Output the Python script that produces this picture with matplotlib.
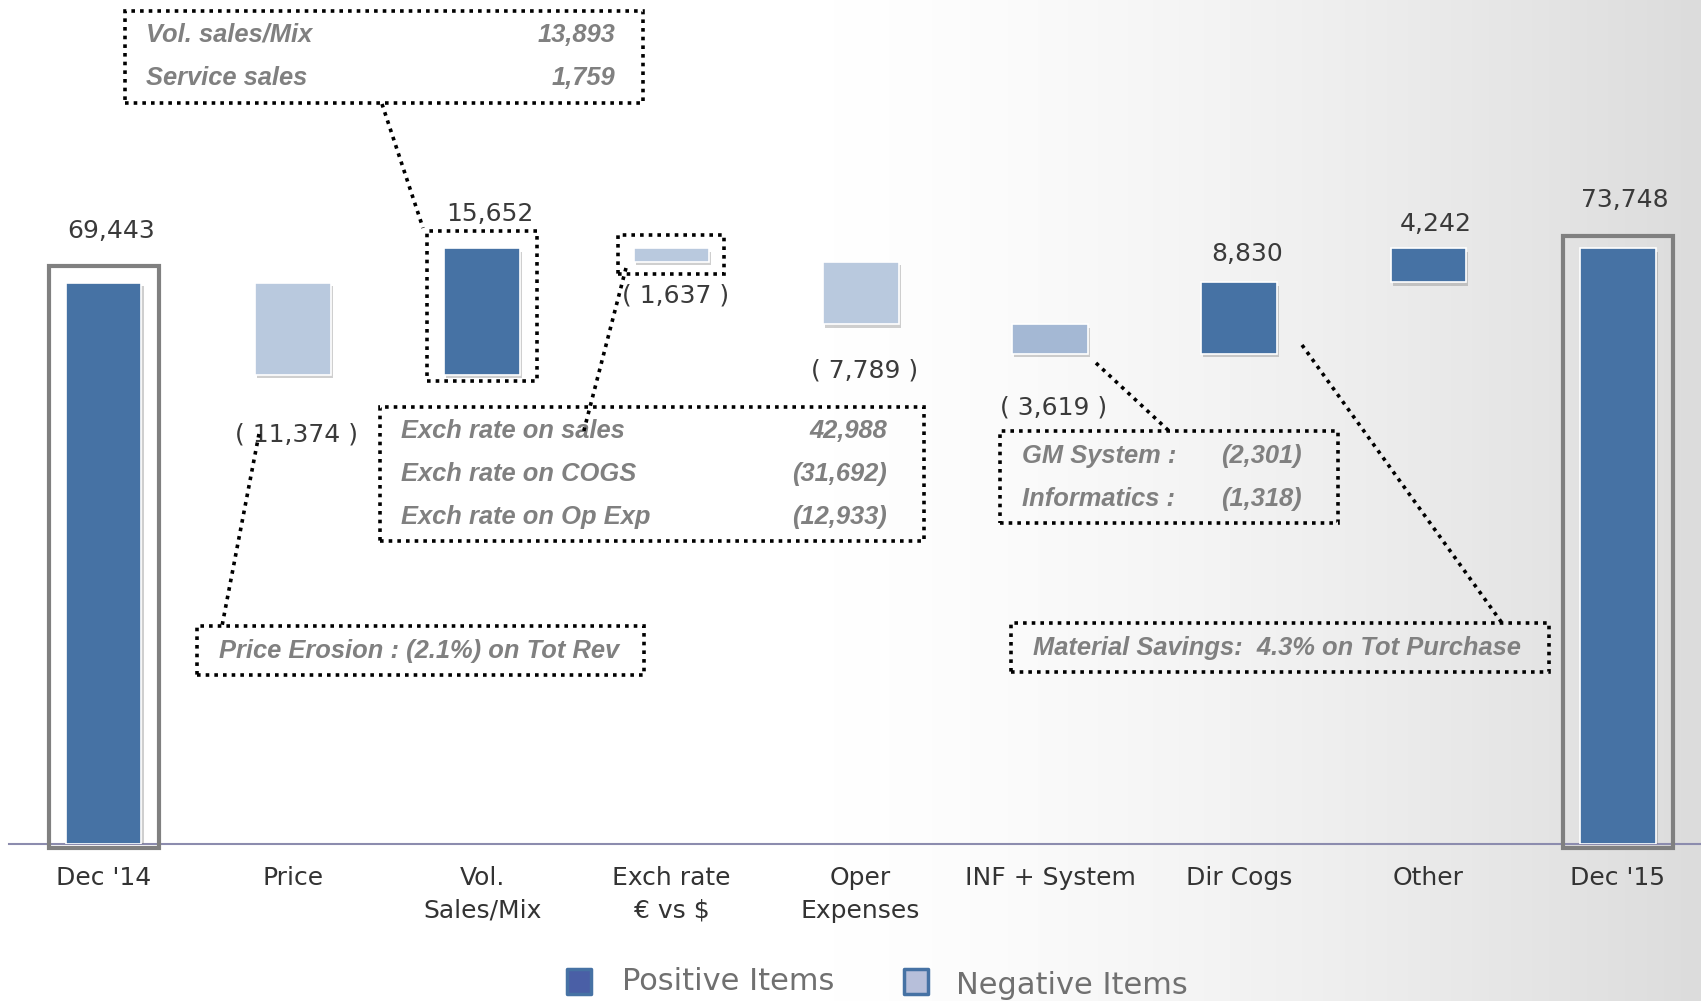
import numpy as np
import matplotlib.pyplot as plt
from matplotlib.patches import Rectangle
from matplotlib.lines import Line2D
from matplotlib.colors import LinearSegmentedColormap
import matplotlib.patheffects as pe

# ---- data ----
categories = ["Dec '14", "Price", "Vol.\nSales/Mix", "Exch rate\n€ vs $", "Oper\nExpenses",
              "INF + System", "Dir Cogs", "Other", "Dec '15"]
deltas = [69443, -11374, 15652, -1637, -7789, -3619, 8830, 4242, 73748]
is_total = [True, False, False, False, False, False, False, False, True]

vol_detail = [("Vol. sales/Mix", "13,893"), ("Service sales", "1,759")]
exch_detail = [("Exch rate on sales", "42,988"), ("Exch rate on COGS", "(31,692)"),
               ("Exch rate on Op Exp", "(12,933)")]
inf_detail = [("GM System :", "(2,301)"), ("Informatics :", "(1,318)")]
price_note = "Price Erosion : (2.1%) on Tot Rev"
cogs_note = "Material Savings:  4.3% on Tot Purchase"
legend_labels = ["Positive Items", "Negative Items"]

# ---- waterfall geometry ----
bottoms, heights = [], []
run = 0
for v, tot in zip(deltas, is_total):
    if tot:
        bottoms.append(0); heights.append(v); run = v
    elif v > 0:
        bottoms.append(run); heights.append(v); run += v
    else:
        run += v
        bottoms.append(run); heights.append(-v)
bottoms = np.array(bottoms); heights = np.array(heights)
tops = bottoms + heights
x = np.arange(len(categories))

dark = "#4672A4"
light = "#B9C9DE"
colors = [dark, light, dark, light, light, "#A4B8D4", dark, dark, dark]

W, H = 1701, 1001
fig = plt.figure(figsize=(W / 100, H / 100), dpi=100)
fig.patch.set_facecolor("white")

# background: soft grey fade to the right
bg = fig.add_axes([0, 0, 1, 1], zorder=-5)
grad = np.clip((np.linspace(0, 1, 400) - 0.48) / 0.52, 0, 1) ** 1.4
grad = np.tile(grad, (10, 1))
cmap = LinearSegmentedColormap.from_list("bg", ["#ffffff", "#dcdcdc"])
bg.imshow(grad, aspect="auto", cmap=cmap, extent=[0, 1, 0, 1])
bg.axis("off")

ax = fig.add_axes([9 / W, 157 / H, 1692 / W, 844 / H])
ax.patch.set_alpha(0)
ax.set_xlim(-0.5, 8.44)
ax.set_ylim(0, 104455)

shadow = [pe.SimplePatchShadow(offset=(1.5, -2.5), shadow_rgbFace="#777777", alpha=0.35), pe.Normal()]
bars = ax.bar(x, heights, bottom=bottoms, width=0.40, color=colors,
              edgecolor="white", linewidth=1.2, zorder=3)
for b in bars:
    b.set_path_effects(shadow)

# grey frames around totals
for i in [0, 8]:
    ax.add_patch(Rectangle((x[i] - 0.29, -500), 0.58, tops[i] + 2600 - 600 * (i == 8),
                           fill=False, edgecolor="#808080", lw=3, zorder=4, clip_on=False))

# dotted frames
dot = dict(fill=False, edgecolor="black", lw=2.6, linestyle=(0, (1, 1.4)), zorder=4)
ax.add_patch(Rectangle((x[2] - 0.29, bottoms[2] - 800), 0.58, heights[2] + 2900, **dot))
ax.add_patch(Rectangle((x[3] - 0.28, bottoms[3] - 1600), 0.56, heights[3] + 3200, **dot))

# value labels
offsets = [52, 60, 34, 34, 46, 54, 28, 24, 48]
for i, v in enumerate(deltas):
    txt = f"{v:,}" if v > 0 else f"( {abs(v):,} )"
    if v > 0:
        ax.annotate(txt, (x[i] + 0.04, tops[i]), xytext=(0, offsets[i] * 0.72),
                    textcoords="offset points", ha="center", va="center",
                    fontsize=18, color="#3a3a3a")
    else:
        ax.annotate(txt, (x[i] + 0.02, bottoms[i]), xytext=(0, -offsets[i] * 0.72),
                    textcoords="offset points", ha="center", va="center",
                    fontsize=18, color="#3a3a3a")

for s in ["top", "left", "right"]:
    ax.spines[s].set_visible(False)
ax.spines["bottom"].set_color("#8c8cae")
ax.spines["bottom"].set_linewidth(1.5)
ax.set_yticks([])
ax.set_xticks(x)
ax.set_xticklabels(categories, fontsize=18, color="#333333", linespacing=1.45)
ax.tick_params(axis="x", length=0, pad=16)


# ---- annotation boxes (figure pixel positions) ----
def fx(px):
    return px / W


def fy(py):
    return 1 - py / H


def dbox(x0, y0, x1, y1):
    fig.add_artist(Rectangle((fx(x0), fy(y1)), (x1 - x0) / W, (y1 - y0) / H,
                             transform=fig.transFigure, fill=False, edgecolor="black",
                             lw=2.6, linestyle=(0, (1, 1.4)), zorder=6))


def dline(x0, y0, x1, y1):
    fig.add_artist(Line2D([fx(x0), fx(x1)], [fy(y0), fy(y1)], transform=fig.transFigure,
                          color="black", lw=2.6, linestyle=(0, (1, 1.4)), zorder=6))


note = dict(family="Liberation Sans", style="italic", weight="bold", color="#808080",
            fontsize=18.4, va="center")

dbox(125, 11, 643, 103)
for k, (a, b) in enumerate(vol_detail):
    fig.text(fx(146), fy(35 + 43 * k), a, ha="left", **note)
    fig.text(fx(615), fy(35 + 43 * k), b, ha="right", **note)
dline(382, 104, 423, 228)

dbox(380, 407, 924, 541)
for k, (a, b) in enumerate(exch_detail):
    fig.text(fx(401), fy(431 + 43 * k), a, ha="left", **note)
    fig.text(fx(887), fy(431 + 43 * k), b, ha="right", **note)
dline(626, 268, 583, 434)

dbox(197, 626, 644, 675)
fig.text(fx(219), fy(651), price_note, ha="left", **note)
dline(259, 434, 222, 626)

dbox(1000, 431, 1338, 523)
for k, (a, b) in enumerate(inf_detail):
    fig.text(fx(1022), fy(456 + 43 * k), a, ha="left", **note)
    fig.text(fx(1302), fy(456 + 43 * k), b, ha="right", **note)
dline(1096, 363, 1169, 431)

dbox(1011, 623, 1549, 672)
fig.text(fx(1033), fy(648), cogs_note, ha="left", **note)
dline(1302, 345, 1502, 623)

# ---- legend ----
leg_fill = ["#4A5FA6", "#B7BFDA"]
leg_x = [567, 904]
leg_tx = [622, 956]
for k in range(2):
    fig.add_artist(Rectangle((fx(leg_x[k]), fy(994)), 24 / W, 25 / H, transform=fig.transFigure,
                             facecolor=leg_fill[k], edgecolor=dark, lw=2.5, joinstyle="round"))
    fig.text(fx(leg_tx[k]), fy(982 + 3 * k), legend_labels[k], fontsize=22, color="#707070",
             ha="left", va="center")

fig.savefig("out.png", dpi=100)
